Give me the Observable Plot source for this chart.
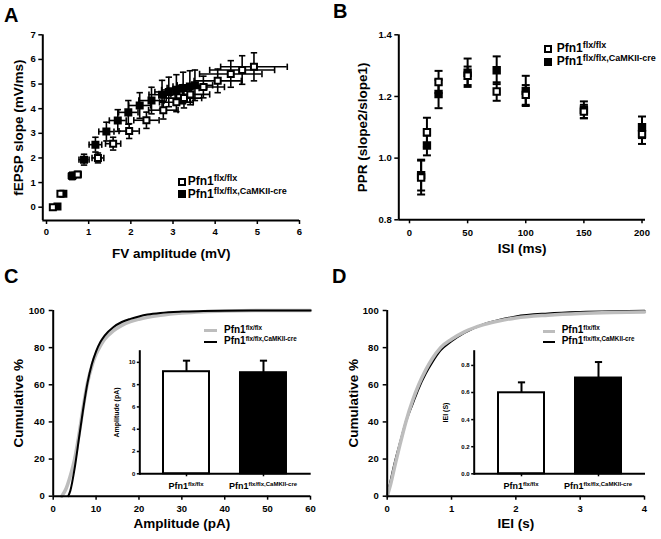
<!DOCTYPE html>
<html><head><meta charset="utf-8">
<script src="https://cdn.jsdelivr.net/npm/d3@7"></script>
<script src="https://cdn.jsdelivr.net/npm/@observablehq/plot@0.6"></script>
<style>
body{margin:0;background:#fff;}
#fig{position:relative;width:661px;height:539px;font-family:"Liberation Sans",Arial,Helvetica,sans-serif;font-weight:bold;color:#000;overflow:hidden;background:#fff}
#fig svg{position:absolute;}
.t{position:absolute;white-space:nowrap;line-height:1;font-weight:bold}
.lg{line-height:0.8}
.s{position:relative;}
.sq{position:absolute;width:8px;height:8px;box-sizing:border-box;border:2px solid #000;}
.ln{position:absolute;height:0;}
</style></head><body><div id="fig"></div>
<script>
// ---------- DATA ----------
// Panel A: input-output (FV amplitude vs fEPSP slope)
const fvFlx      = [0.15,0.33,0.74,1.22,1.58,1.96,2.37,2.77,3.08,3.26,3.41,3.72,4.06,4.37,4.64,4.92];
const slopeFlx   = [0.00,0.55,1.33,2.00,2.58,3.09,3.53,3.94,4.26,4.43,4.58,4.88,5.13,5.41,5.57,5.70];
const fvErrFlx   = [0.03,0.05,0.08,0.14,0.18,0.24,0.30,0.35,0.40,0.42,0.46,0.50,0.56,0.74,0.77,0.79];
const slopeErrFlx= [0.05,0.07,0.12,0.20,0.26,0.30,0.33,0.36,0.38,0.40,0.42,0.44,0.48,0.54,0.58,0.57];
const fvCre      = [0.26,0.40,0.61,0.89,1.16,1.42,1.69,1.94,2.21,2.49,2.74,2.90,3.08,3.24,3.40,3.52];
const slopeCre   = [0.03,0.55,1.27,1.93,2.54,3.07,3.52,3.85,4.13,4.33,4.57,4.68,4.76,4.84,4.90,4.95];
const fvErrCre   = [0.04,0.06,0.09,0.12,0.15,0.18,0.20,0.23,0.26,0.30,0.31,0.33,0.35,0.38,0.40,0.42];
const slopeErrCre= [0.05,0.08,0.15,0.22,0.30,0.38,0.44,0.48,0.52,0.54,0.58,0.60,0.62,0.64,0.64,0.62];
const xTicksA = [0,1,2,3,4,5,6];
const yTicksA = [0,1,2,3,4,5,6,7];

// Panel B: paired-pulse ratio
const isi     = [10,15,25,50,75,100,150,200];
const pprFlx  = [0.937,1.084,1.247,1.267,1.216,1.205,1.151,1.078];
const pprErrFlx=[0.055,0.047,0.036,0.030,0.030,0.032,0.022,0.032];
const pprCre  = [0.945,1.041,1.208,1.277,1.285,1.218,1.157,1.100];
const pprErrCre=[0.050,0.032,0.046,0.046,0.045,0.049,0.027,0.035];
const xTicksB = [0,50,100,150,200];
const yTicksB = [0.8,1.0,1.2,1.4];

// Panel C: cumulative amplitude distributions
const ampXFlx = [2,3,4,5,6,7,8,9,10,11,12,14,16,18,20,22,25,30,35,40,50,60];
const ampYFlx = [0,4,11,20,33,48,61,70,76.5,81,84.5,89,92,94,95.3,96.3,97.4,98.6,99.3,99.7,100,100];
const ampXCre = [3.5,4,5,6,7,8,9,10,11,12,14,16,18,20,22,25,30,35,40,50,60];
const ampYCre = [0,3,15,31,47,61,71,78,83,86.5,91,93.8,95.5,96.8,97.8,98.7,99.4,99.7,99.9,100,100];
const xTicksC = [0,10,20,30,40,50,60];
const yTicksCum = [0,20,40,60,80,100];

// Panel D: cumulative inter-event interval distributions
const ieiX    = [0,0.05,0.13,0.2,0.29,0.4,0.49,0.6,0.7,0.83,1.0,1.2,1.5,1.75,2.0,2.5,3.0,3.5,4.0];
const ieiYFlx = [0,6,18,28,40,52,60,68,74,80,84.5,88.5,92.4,94.5,96,97.5,98.4,98.9,99.2];
const ieiYCre = [0,8,20,29,40,50,58,66,72,78.5,83.5,88,92.6,95,96.8,98.4,99.2,99.6,99.8];
const xTicksD = [0,1,2,3,4];

// Insets: mean ± SEM
const genotypes = ["flx/flx","flx/flx,CaMKII-cre"];
const ampMean = [9.16, 9.07];
const ampSem  = [0.99, 1.08];
const ieiMean = [0.598, 0.707];
const ieiSem  = [0.077, 0.118];
const yTicksAmpInset = [0,2,4,6,8,10];
const yTicksIeiInset = [0,0.2,0.4,0.6,0.8];

// ---------- HELPERS ----------
const fig = document.getElementById("fig");
const FONT = "'Liberation Sans', Arial, Helvetica, sans-serif";
const baseStyle = {fontFamily: FONT, fontWeight: "bold", fontSize: "9.5px", background: "none", overflow: "visible", color: "black"};
const capH = {draw(ctx, size){const r = Math.sqrt(size/Math.PI); ctx.moveTo(-r,0); ctx.lineTo(r,0);}};
const capV = {draw(ctx, size){const r = Math.sqrt(size/Math.PI); ctx.moveTo(0,-r); ctx.lineTo(0,r);}};
function put(el, left, top){ el.style.position="absolute"; el.style.left=left+"px"; el.style.top=top+"px"; fig.appendChild(el); return el; }
function html(cls, inner, left, top, extra){ const d=document.createElement("div"); d.className=cls; d.innerHTML=inner; if(extra) Object.assign(d.style, extra); return put(d,left,top); }
function label(sup, small, rise){ return `Pfn1<span class="s" style="font-size:${small}px;top:-${rise}px">${sup}</span>`; }
const xTitle = (s, dy) => Plot.text([s], {text: d=>d, frameAnchor: "bottom", dy, fontSize: 13.5, textAnchor: "middle", lineAnchor: "middle"});
const yTitle = (s, dx, fs = 13.5) => Plot.text([s], {text: d=>d, frameAnchor: "left", dx, rotate: -90, fontSize: fs, textAnchor: "middle", lineAnchor: "middle"});

// ---------- PANEL A ----------
const rowsA = (xs, ys, xe, ye) => xs.map((x,i)=>({x, y: ys[i], xe: xe[i], ye: ye[i]}));
const aFlx = rowsA(fvFlx, slopeFlx, fvErrFlx, slopeErrFlx);
const aCre = rowsA(fvCre, slopeCre, fvErrCre, slopeErrCre);
const aAll = [...aCre, ...aFlx];
const xDomA = [-0.088, 6], yDomA = [-0.54, 7];
const plotA = Plot.plot({
  width: 330, height: 270, marginLeft: 42.3, marginRight: 31, marginTop: 34.3, marginBottom: 50,
  x: {domain: xDomA}, y: {domain: yDomA}, style: baseStyle,
  marks: [
    Plot.ruleY([yDomA[0]], {x1: xDomA[0], x2: xDomA[1], strokeWidth: 2}),
    Plot.ruleX([xDomA[0]], {y1: yDomA[0], y2: yDomA[1], strokeWidth: 2}),
    Plot.axisX(xTicksA, {tickSize: 4, tickPadding: 4, strokeWidth: 1.5, fontSize: 9.5, label: null}),
    Plot.axisY(yTicksA, {tickSize: 4, tickPadding: 3, strokeWidth: 1.5, fontSize: 9.5, label: null}),
    Plot.ruleY(aAll, {y: "y", x1: d=>d.x-d.xe, x2: d=>d.x+d.xe, strokeWidth: 1.6}),
    Plot.ruleX(aAll, {x: "x", y1: d=>d.y-d.ye, y2: d=>d.y+d.ye, strokeWidth: 1.6}),
    Plot.dot(aAll, {x: d=>d.x-d.xe, y: "y", symbol: capV, r: 3.2, stroke: "black", fill: "none", strokeWidth: 1.6}),
    Plot.dot(aAll, {x: d=>d.x+d.xe, y: "y", symbol: capV, r: 3.2, stroke: "black", fill: "none", strokeWidth: 1.6}),
    Plot.dot(aAll, {x: "x", y: d=>d.y-d.ye, symbol: capH, r: 3.2, stroke: "black", fill: "none", strokeWidth: 1.6}),
    Plot.dot(aAll, {x: "x", y: d=>d.y+d.ye, symbol: capH, r: 3.2, stroke: "black", fill: "none", strokeWidth: 1.6}),
    Plot.dot(aCre, {x: "x", y: "y", symbol: "square", r: 3.4, fill: "black", stroke: "black", strokeWidth: 2}),
    Plot.dot(aFlx, {x: "x", y: "y", symbol: "square", r: 3.4, fill: "white", stroke: "black", strokeWidth: 2}),
    xTitle("FV amplitude (mV)", 33.3),
    yTitle("fEPSP slope (mV/ms)", -24)
  ]
});
put(plotA, 0, 0);

// ---------- PANEL B ----------
const bFlx = isi.map((x,i)=>({x, y: pprFlx[i], e: pprErrFlx[i]}));
const bCre = isi.map((x,i)=>({x, y: pprCre[i], e: pprErrCre[i]}));
const bAll = [...bCre, ...bFlx];
const xDomB = [-9.2, 203], yDomB = [0.8, 1.4];
const plotB = Plot.plot({
  width: 331, height: 270, marginLeft: 68.3, marginRight: 16, marginTop: 34.3, marginBottom: 50.7,
  x: {domain: xDomB}, y: {domain: yDomB}, style: baseStyle,
  marks: [
    Plot.ruleY([yDomB[0]], {x1: xDomB[0], x2: xDomB[1], strokeWidth: 2}),
    Plot.ruleX([xDomB[0]], {y1: yDomB[0], y2: yDomB[1], strokeWidth: 2}),
    Plot.axisX(xTicksB, {tickSize: 4, tickPadding: 5, strokeWidth: 1.5, fontSize: 9.5, label: null}),
    Plot.axisY(yTicksB, {tickSize: 4, tickPadding: 3, strokeWidth: 1.5, fontSize: 9.5, label: null, tickFormat: d3.format(".1f")}),
    Plot.ruleX(bAll, {x: "x", y1: d=>d.y-d.e, y2: d=>d.y+d.e, strokeWidth: 2}),
    Plot.dot(bAll, {x: "x", y: d=>d.y-d.e, symbol: capH, r: 4, stroke: "black", fill: "none", strokeWidth: 2}),
    Plot.dot(bAll, {x: "x", y: d=>d.y+d.e, symbol: capH, r: 4, stroke: "black", fill: "none", strokeWidth: 2}),
    Plot.dot(bCre, {x: "x", y: "y", symbol: "square", r: 3.6, fill: "black", stroke: "black", strokeWidth: 2}),
    Plot.dot(bFlx, {x: "x", y: "y", symbol: "square", r: 3.6, fill: "white", stroke: "black", strokeWidth: 2}),
    xTitle("ISI (ms)", 29),
    yTitle("PPR (slope2/slope1)", -36.6)
  ]
});
put(plotB, 330, 0);

// ---------- PANELS C & D (cumulative) ----------
function cumPanel(xF, yF, xC, yC, xDom, xTicks, title, ml, mr, width, titleDx, creOnTop){
  const f = xF.map((x,i)=>({x, y: yF[i]}));
  const c = xC.map((x,i)=>({x, y: yC[i]}));
  const gray = Plot.line(f, {x: "x", y: "y", stroke: "#bdbdbd", strokeWidth: 3.5, curve: "monotone-x"});
  const black = Plot.line(c, {x: "x", y: "y", stroke: "black", strokeWidth: 2, curve: "monotone-x"});
  return Plot.plot({
    width, height: 269, marginLeft: ml, marginRight: mr, marginTop: 40, marginBottom: 43.3,
    x: {domain: xDom}, y: {domain: [0,100]}, style: baseStyle,
    marks: [
      ...(creOnTop ? [gray, black] : [black, gray]),
      Plot.ruleY([0], {x1: xDom[0], x2: xDom[1], strokeWidth: 2}),
      Plot.ruleX([xDom[0]], {y1: 0, y2: 100, strokeWidth: 2}),
      Plot.axisX(xTicks, {tickSize: 4, tickPadding: 5, strokeWidth: 1.5, fontSize: 9.5, label: null}),
      Plot.axisY(yTicksCum, {tickSize: 4, tickPadding: 4.5, strokeWidth: 1.5, fontSize: 9.5, label: null}),
      xTitle(title, 27.6),
      yTitle("Cumulative %", titleDx)
    ]
  });
}
put(cumPanel(ampXFlx, ampYFlx, ampXCre, ampYCre, [0,60], xTicksC, "Amplitude (pA)", 52.7, 20, 330, -34.4, true), 0, 270);
put(cumPanel(ieiX, ieiYFlx, ieiX, ieiYCre, [0,4], xTicksD, "IEI (s)", 56.7, 17, 331, -33.4, false), 330, 270);

// ---------- INSETS ----------
function inset(means, sems, yDom, yTicks, fmt, title, titleDx, left, top, width, ml){
  const rows = genotypes.map((g,i)=>({g, m: means[i], s: sems[i]}));
  const p = Plot.plot({
    width, height: 170, marginLeft: ml, marginRight: 10, marginTop: 20.7, marginBottom: 26.7,
    x: {type: "band", domain: genotypes, paddingInner: 0.4, paddingOuter: 0.3},
    y: {domain: yDom}, style: {...baseStyle, fontSize: "6px"},
    marks: [
      Plot.barY(rows, {filter: (d,i)=>i===0, x: "g", y: "m", fill: "white", stroke: "black", strokeWidth: 2}),
      Plot.barY(rows, {filter: (d,i)=>i===1, x: "g", y: "m", fill: "black", stroke: "black", strokeWidth: 2}),
      Plot.ruleX(rows, {x: "g", y1: "m", y2: d=>d.m+d.s, strokeWidth: 2}),
      Plot.dot(rows, {x: "g", y: d=>d.m+d.s, symbol: capH, r: 3.6, stroke: "black", fill: "none", strokeWidth: 2}),
      Plot.ruleY([yDom[0]], {strokeWidth: 2}),
      Plot.frame({anchor: "left", strokeWidth: 2}),
      Plot.axisY(yTicks, {tickSize: 2.5, tickPadding: 2, strokeWidth: 1.5, fontSize: 6, label: null, tickFormat: fmt}),
      Plot.axisX({tickSize: 3, strokeWidth: 1.5, tickFormat: () => "", label: null}),
      yTitle(title, titleDx, 7)
    ]
  });
  put(p, left, top);
  const xs = p.scale("x");
  genotypes.forEach(g => {
    const cx = left + xs.apply(g) + xs.bandwidth/2;
    html("t", label(g, 6, 3.5), cx, top + 170 - 26.7 + 9, {fontSize: "9px", transform: "translateX(-50%)"});
  });
}
inset(ampMean, ampSem, [0,11], yTicksAmpInset, d3.format("d"), "Amplitude (pA)", -22.6, 100, 330, 220.7, 39.3);
inset(ieiMean, ieiSem, [0,0.905], yTicksIeiInset, d3.format(".1f"), "IEI (S)", -28.7, 430, 330, 225, 43.7);

// ---------- LEGENDS ----------
// A
html("sq", "", 177.7, 178.4, {background: "#fff"});
html("sq", "", 177.7, 189.8, {background: "#000"});
html("t lg", label(genotypes[0], 9, 4.5), 187.7, 177.2, {fontSize: "12px"});
html("t lg", label(genotypes[1], 9, 4.5), 187.7, 190.0, {fontSize: "12px"});
// B
html("sq", "", 544.3, 45.3, {background: "#fff"});
html("sq", "", 544.3, 57.7, {background: "#000"});
html("t lg", label(genotypes[0], 9, 4.5), 556.7, 44.4, {fontSize: "12px"});
html("t lg", label(genotypes[1], 9, 4.5), 556.7, 57.1, {fontSize: "12px"});
// C
html("ln", "", 204, 329.2, {width: "12.7px", borderTop: "3px solid #bdbdbd"});
html("ln", "", 204, 340.5, {width: "12.7px", borderTop: "2.5px solid #000"});
html("t lg", label(genotypes[0], 6.3, 3.5), 224, 326.3, {fontSize: "10px"});
html("t lg", label(genotypes[1], 6.3, 3.5), 224, 337.3, {fontSize: "10px"});
// D
html("ln", "", 542.7, 329.5, {width: "12.3px", borderTop: "3px solid #bdbdbd"});
html("ln", "", 542.7, 340.5, {width: "12.3px", borderTop: "2.5px solid #000"});
html("t lg", label(genotypes[0], 6.3, 3.5), 561.7, 326.3, {fontSize: "10px"});
html("t lg", label(genotypes[1], 6.3, 3.5), 561.7, 337.3, {fontSize: "10px"});

// ---------- PANEL LETTERS ----------
html("t", "A", 4, 4.8, {fontSize: "20px"});
html("t", "B", 333, 1.4, {fontSize: "20px"});
html("t", "C", 4, 266, {fontSize: "20px"});
html("t", "D", 332, 266, {fontSize: "20px"});
</script></body></html>
